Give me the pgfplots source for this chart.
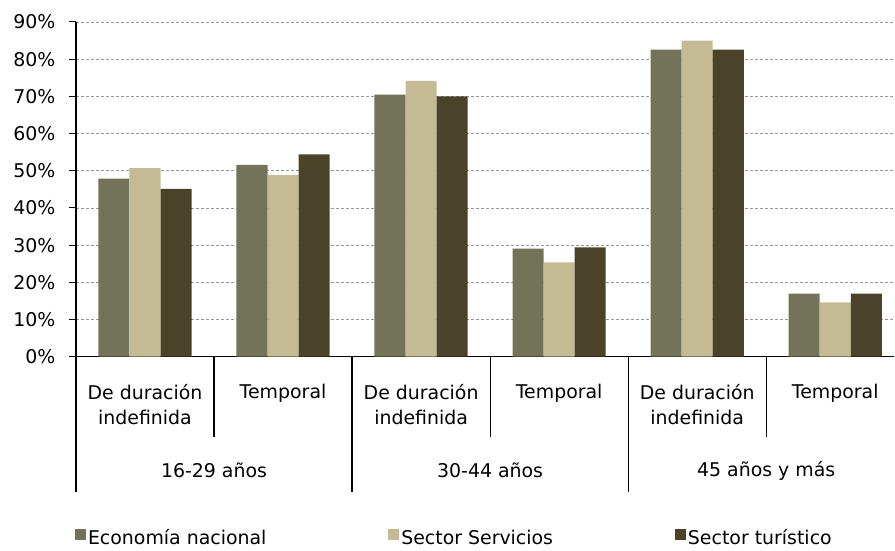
\documentclass[border=0pt]{standalone}
\usepackage{pgfplots}
\pgfplotsset{compat=1.18}
\usepackage{fontspec}
\setmainfont{DejaVu Sans}
\definecolor{ceco}{HTML}{727359}
\definecolor{cserv}{HTML}{C4BB95}
\definecolor{ctur}{HTML}{4A432A}
\definecolor{cgrid}{HTML}{999999}
\begin{document}
\begin{tikzpicture}[font=\fontsize{19}{25}\selectfont]
\begin{axis}[
  scale only axis, width=819bp, height=335bp,
  xmin=-0.5, xmax=5.428, ymin=0, ymax=90,
  ybar=0pt, bar width=0.225,
  axis x line*=bottom, axis y line*=left,
  axis line style={black, line width=1.3bp},
  clip=false,
  xtick={0,1,2,3,4,5},
  xticklabels={{De duración\\indefinida},Temporal,{De duración\\indefinida},Temporal,{De duración\\indefinida},Temporal},
  x tick label style={align=center, anchor=north, yshift=-17bp, font=\fontsize{19}{25}\selectfont},
  major x tick style={draw=none},
  ytick={0,10,...,90},
  yticklabel={\pgfmathprintnumber{\tick}\%},
  /pgf/number format/assume math mode=true,
  y tick label style={xshift=-10bp, font=\fontsize{19}{25}\selectfont},
  tick align=outside, major tick length=7bp,
  y tick style={black, line width=1bp},
  ymajorgrids, grid style={cgrid, line width=0.9bp, dash pattern=on 3bp off 2bp},
  legend columns=3,
  legend style={draw=none, fill=none, at={(-0.005,-0.543)}, anchor=west,
    nodes={text height=14bp, text depth=4bp, inner ysep=0bp},
    /tikz/every even column/.append style={column sep=120bp},
    font=\fontsize{19}{22}\selectfont},
  legend image code/.code={\fill[#1] (0bp,0bp) rectangle (11bp,11bp);},
]
\addplot[fill=ceco, draw=none] coordinates {(0,47.9) (1,51.6) (2,70.5) (3,29.1) (4,82.6) (5,17.0)};
\addplot[fill=cserv, draw=none] coordinates {(0,50.7) (1,48.8) (2,74.2) (3,25.4) (4,85.0) (5,14.6)};
\addplot[fill=ctur, draw=none] coordinates {(0,45.1) (1,54.4) (2,70.0) (3,29.4) (4,82.6) (5,17.0)};
\legend{Economía nacional, Sector Servicios, Sector turístico}
\coordinate (O) at (rel axis cs:0,0);
\draw[black, line width=1.2bp] (axis cs:-0.5,0) -- ([yshift=-135bp]axis cs:-0.5,0);
\draw[black, line width=1.2bp] (axis cs:1.5,0) -- ([yshift=-135bp]axis cs:1.5,0);
\draw[black, line width=1.2bp] (axis cs:3.5,0) -- ([yshift=-135bp]axis cs:3.5,0);
\draw[black, line width=1.2bp] (axis cs:0.5,0) -- ([yshift=-80bp]axis cs:0.5,0);
\draw[black, line width=1.2bp] (axis cs:2.5,0) -- ([yshift=-80bp]axis cs:2.5,0);
\draw[black, line width=1.2bp] (axis cs:4.5,0) -- ([yshift=-80bp]axis cs:4.5,0);
\node at (axis cs:0.5,0) [yshift=-114bp] {16-29 años};
\node at (axis cs:2.5,0) [yshift=-114bp] {30-44 años};
\node at (axis cs:4.5,0) [yshift=-114bp] {45 años y más};
\end{axis}
\path[use as bounding box] (O) ++(-76bp,-190bp) rectangle ++(895bp,547bp);
\end{tikzpicture}
\end{document}
